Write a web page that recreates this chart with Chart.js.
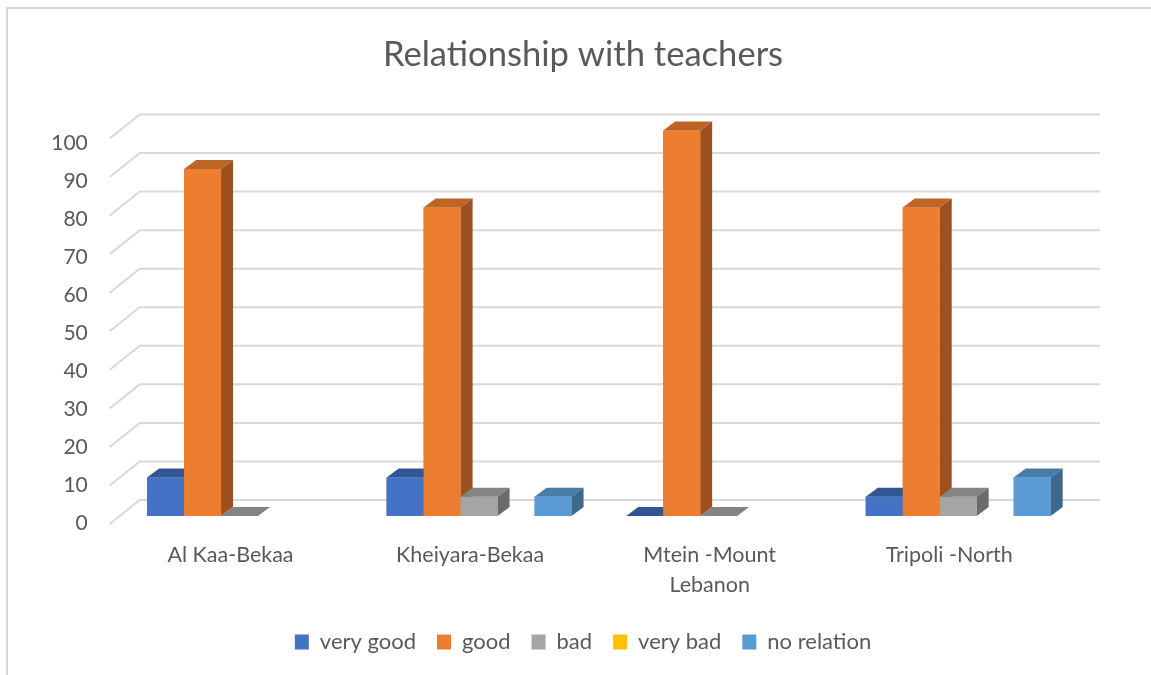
<!DOCTYPE html>
<html>
<head>
<meta charset="utf-8">
<title>Relationship with teachers</title>
<script src="https://cdn.jsdelivr.net/npm/chart.js@4"></script>
<style>
  html, body { margin: 0; padding: 0; background: #fff; }
  #wrap { position: relative; width: 1151px; height: 675px; overflow: hidden; }
  #frame { position: absolute; left: 6px; top: 7px; width: 1150px; height: 680px; border-left: 2px solid #d9d9d9; border-top: 2px solid #d9d9d9; }
</style>
</head>
<body>
<div id="wrap">
  <canvas id="chart" width="1151" height="675"></canvas>
  <div id="frame"></div>
</div>
<script>
const categories = ['Al Kaa-Bekaa', 'Kheiyara-Bekaa', ['Mtein -Mount', 'Lebanon'], 'Tripoli -North'];
const veryGood = [10, 10, 0, 5];
const good = [90, 80, 100, 80];
const bad = [0, 5, 0, 5];
const veryBad = [null, null, null, null];
const noRelation = [null, 5, null, 10];
const yTicks = [0, 10, 20, 30, 40, 50, 60, 70, 80, 90, 100];

const textColor = '#595959';
const gridColor = '#d9d9d9';
const fontName = 'Lato, Carlito, sans-serif';

// top and side shades of each bar, same order as the datasets
const shades = [
  { top: '#335593', side: '#2c4c86' },
  { top: '#bd6427', side: '#9e5120' },
  { top: '#848484', side: '#6b6b6b' },
  { top: '#cc9a00', side: '#a67c00' },
  { top: '#4a7ca8', side: '#3c678f' }
];

const depthX = 12, depthY = 9;

function poly(ctx, pts, color) {
  ctx.fillStyle = color;
  ctx.beginPath();
  ctx.moveTo(pts[0][0], pts[0][1]);
  pts.slice(1).forEach(p => ctx.lineTo(p[0], p[1]));
  ctx.closePath();
  ctx.fill();
}

const wall3d = {
  id: 'wall3d',
  beforeDatasetsDraw(chart) {
    const { ctx, chartArea, scales } = chart;
    ctx.save();
    ctx.strokeStyle = gridColor;
    ctx.lineWidth = 2;
    yTicks.forEach(v => {
      const y = scales.y.getPixelForValue(v);
      ctx.beginPath();
      ctx.moveTo(chartArea.left - 10, y + 8);
      ctx.lineTo(chartArea.left + 20, y - 16);
      ctx.lineTo(chartArea.right + 22, y - 16);
      ctx.stroke();
    });
    ctx.restore();
  },
  // bars go left to right so each one covers the side of the one before
  afterDatasetsDraw(chart) {
    const { ctx } = chart;
    ctx.save();
    chart.data.datasets.forEach((ds, i) => {
      chart.getDatasetMeta(i).data.forEach((bar, j) => {
        if (ds.data[j] === null) return;
        const { x, y, base, width } = bar.getProps(['x', 'y', 'base', 'width'], true);
        const l = x - width / 2, r = x + width / 2;
        poly(ctx, [[l, y], [l + depthX, y - depthY], [r + depthX, y - depthY], [r, y]], shades[i].top);
        if (base > y) {
          poly(ctx, [[r, y], [r + depthX, y - depthY], [r + depthX, base - depthY], [r, base]], shades[i].side);
          bar.draw(ctx);
        }
      });
    });
    ctx.restore();
  }
};

new Chart(document.getElementById('chart'), {
  type: 'bar',
  data: {
    labels: categories,
    datasets: [
      { label: 'very good', data: veryGood, backgroundColor: '#4472c4' },
      { label: 'good', data: good, backgroundColor: '#ed7d31' },
      { label: 'bad', data: bad, backgroundColor: '#a5a5a5' },
      { label: 'very bad', data: veryBad, backgroundColor: '#ffc000' },
      { label: 'no relation', data: noRelation, backgroundColor: '#5b9bd5' }
    ]
  },
  plugins: [wall3d],
  options: {
    responsive: false,
    animation: false,
    layout: { padding: { left: 15, right: 0, top: 0, bottom: 12 } },
    datasets: { bar: { barPercentage: 1, categoryPercentage: 0.772, yAxisID: 'y' } },
    plugins: {
      tooltip: { enabled: false },
      title: {
        display: true,
        text: 'Relationship with teachers',
        color: textColor,
        font: { family: fontName, size: 34.6, weight: 'normal' },
        padding: { top: 34, bottom: 38 }
      },
      legend: {
        position: 'bottom',
        labels: {
          color: textColor,
          font: { family: fontName, size: 22 },
          boxWidth: 14,
          boxHeight: 15,
          padding: 21
        }
      }
    },
    scales: {
      x: {
        grid: { display: false },
        border: { display: false },
        ticks: {
          color: textColor,
          font: { family: fontName, size: 21.5, lineHeight: 1.4 },
          padding: 8,
          labelOffset: -9,
          maxRotation: 0,
          autoSkip: false
        },
        afterFit(scale) { scale.height = 86; }
      },
      // bars and walls follow this one, no labels, it only keeps the right margin
      y: {
        position: 'right',
        min: -2.07,
        max: 104.4,
        grid: { display: false },
        border: { display: false },
        ticks: { display: false },
        afterFit(scale) { scale.width = 73; }
      },
      // the tick labels sit on the front edge of the box, a bit lower and tighter than the bars
      yLabels: {
        position: 'left',
        min: -0.26,
        max: 107.87,
        grid: { display: false },
        border: { display: false },
        afterBuildTicks(scale) { scale.ticks = yTicks.map(v => ({ value: v })); },
        afterFit(scale) { scale.width = 104.75; },
        ticks: {
          color: textColor,
          font: { family: fontName, size: 21 },
          padding: 24,
          callback: v => String(v)
        }
      }
    }
  }
});
</script>
</body>
</html>
